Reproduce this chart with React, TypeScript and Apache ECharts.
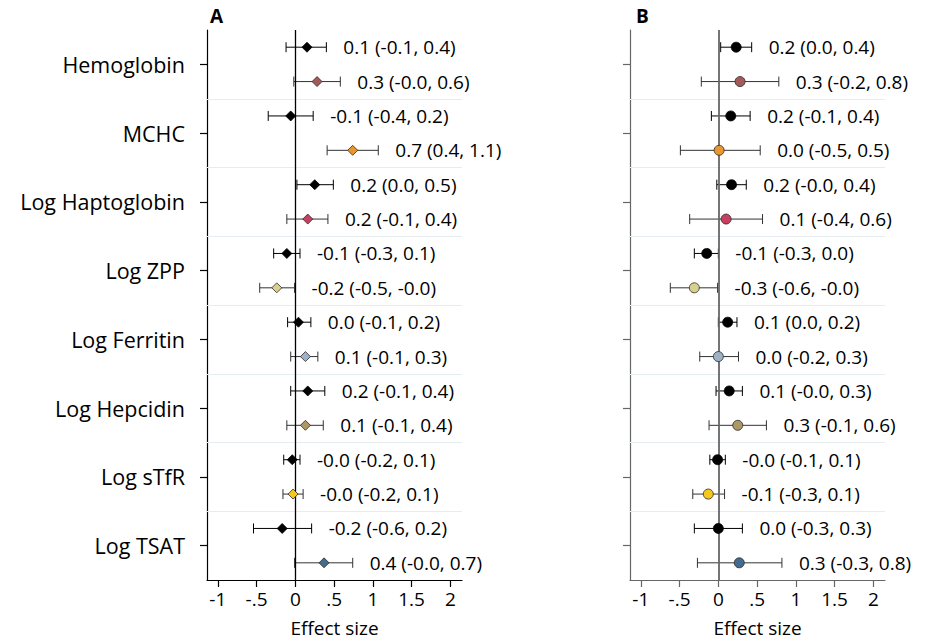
import React, { useEffect, useRef } from "react";
import * as echarts from "echarts";

const categories = ["Hemoglobin", "MCHC", "Log Haptoglobin", "Log ZPP", "Log Ferritin", "Log Hepcidin", "Log sTfR", "Log TSAT"];

// Panel A (rows: per category, first = black, second = coloured)
const aEst = [0.15, 0.28, -0.06, 0.74, 0.25, 0.16, -0.11, -0.24, 0.04, 0.13, 0.16, 0.13, -0.04, -0.03, -0.17, 0.37];
const aLo = [-0.12, -0.02, -0.35, 0.41, 0.02, -0.11, -0.28, -0.46, -0.1, -0.06, -0.06, -0.11, -0.15, -0.16, -0.54, -0.01];
const aHi = [0.4, 0.58, 0.23, 1.07, 0.49, 0.42, 0.06, -0.01, 0.2, 0.29, 0.38, 0.36, 0.06, 0.1, 0.21, 0.74];
const aLabels = [
  "0.1 (-0.1, 0.4)", "0.3 (-0.0, 0.6)", "-0.1 (-0.4, 0.2)", "0.7 (0.4, 1.1)",
  "0.2 (0.0, 0.5)", "0.2 (-0.1, 0.4)", "-0.1 (-0.3, 0.1)", "-0.2 (-0.5, -0.0)",
  "0.0 (-0.1, 0.2)", "0.1 (-0.1, 0.3)", "0.2 (-0.1, 0.4)", "0.1 (-0.1, 0.4)",
  "-0.0 (-0.2, 0.1)", "-0.0 (-0.2, 0.1)", "-0.2 (-0.6, 0.2)", "0.4 (-0.0, 0.7)",
];

// Panel B
const bEst = [0.23, 0.28, 0.16, 0.01, 0.17, 0.1, -0.15, -0.31, 0.12, 0.0, 0.14, 0.25, -0.01, -0.13, 0.0, 0.27];
const bLo = [0.03, -0.22, -0.09, -0.49, -0.02, -0.37, -0.31, -0.62, 0.0, -0.24, -0.03, -0.12, -0.11, -0.33, -0.31, -0.27];
const bHi = [0.43, 0.78, 0.41, 0.54, 0.36, 0.57, 0.0, -0.01, 0.24, 0.26, 0.31, 0.62, 0.09, 0.08, 0.31, 0.82];
const bLabels = [
  "0.2 (0.0, 0.4)", "0.3 (-0.2, 0.8)", "0.2 (-0.1, 0.4)", "0.0 (-0.5, 0.5)",
  "0.2 (-0.0, 0.4)", "0.1 (-0.4, 0.6)", "-0.1 (-0.3, 0.0)", "-0.3 (-0.6, -0.0)",
  "0.1 (0.0, 0.2)", "0.0 (-0.2, 0.3)", "0.1 (-0.0, 0.3)", "0.3 (-0.1, 0.6)",
  "-0.0 (-0.1, 0.1)", "-0.1 (-0.3, 0.1)", "0.0 (-0.3, 0.3)", "0.3 (-0.3, 0.8)",
];

const groupColors = ["#a35a58", "#e8972f", "#c8405f", "#d9d08e", "#9eb2c6", "#ad9764", "#f4c81c", "#446a8e"];
const xTicks = [-1, -0.5, 0, 0.5, 1, 1.5, 2];

const FONT = "Open Sans";

function fmtTick(v: number): string {
  if (v === 0) return "0";
  const a = Math.abs(v);
  const s = a < 1 ? String(a).replace(/^0/, "") : String(a);
  return (v < 0 ? "-" : "") + s;
}

function buildPanel(idx: number, est: number[], lo: number[], hi: number[], labels: string[], symbol: string, axisColor: string, zeroColor: string) {
  const rows = est.map((_, i) => i);
  const errData = rows.map((i) => [lo[i], hi[i], i]);
  const ptData = rows.map((i) => ({
    value: [est[i], i],
    itemStyle: {
      color: i % 2 === 0 ? "#000000" : groupColors[Math.floor(i / 2)],
      borderColor: i % 2 === 0 ? "#000000" : "#2a2a2a",
      borderWidth: 0.8,
      opacity: 1,
    },
  }));
  const seps = [1.5, 3.5, 5.5, 7.5, 9.5, 11.5, 13.5].map((y) => ({
    yAxis: y,
    lineStyle: { color: "#e6edf1", width: 1, type: "solid" },
  }));
  const errSeries = {
    type: "custom",
    xAxisIndex: idx,
    yAxisIndex: idx * 2 + 1,
    encode: { x: [0, 1], y: 2 },
    data: errData,
    z: 3,
    markLine: {
      silent: true,
      symbol: "none",
      label: { show: false },
      data: [...seps, { xAxis: 0, lineStyle: { color: zeroColor, width: idx === 0 ? 1.3 : 1.8, type: "solid" } }],
    },
    renderItem: (params: any, api: any) => {
      const l = api.value(0);
      const h = api.value(1);
      const y = api.value(2);
      const p1 = api.coord([l, y]);
      const p2 = api.coord([h, y]);
      const stroke = y % 2 === 0 ? "#000" : "#333";
      const c = 5;
      return {
        type: "group",
        children: [
          { type: "line", shape: { x1: p1[0], y1: p1[1], x2: p2[0], y2: p2[1] }, style: { stroke, lineWidth: 1 } },
          { type: "line", shape: { x1: p1[0], y1: p1[1] - c, x2: p1[0], y2: p1[1] + c }, style: { stroke, lineWidth: 1 } },
          { type: "line", shape: { x1: p2[0], y1: p2[1] - c, x2: p2[0], y2: p2[1] + c }, style: { stroke, lineWidth: 1 } },
          {
            type: "text",
            x: p2[0] + 17,
            y: p2[1],
            style: { text: labels[params.dataIndex], fill: "#000", fontSize: 19, fontFamily: FONT, verticalAlign: "middle", align: "left" },
          },
        ],
      };
    },
  };
  const ptSeries = {
    type: "scatter",
    xAxisIndex: idx,
    yAxisIndex: idx * 2 + 1,
    symbol,
    symbolSize: 10,
    itemStyle: { opacity: 1 },
    data: ptData,
    z: 5,
  };
  const xAxis = {
    type: "value",
    gridIndex: idx,
    min: -1.14,
    max: 2.15,
    axisLine: { show: true, onZero: false, lineStyle: { color: axisColor, width: 1.2 } },
    axisTick: { show: true, length: 7, customValues: xTicks, lineStyle: { color: axisColor, width: 1.2 } },
    axisLabel: { customValues: xTicks, formatter: (v: number) => fmtTick(v), fontSize: 19, color: "#000", fontFamily: FONT, margin: 9 },
    splitLine: { show: false },
    name: "Effect size",
    nameLocation: "middle",
    nameGap: 38,
    nameTextStyle: { fontSize: 19, color: "#000", fontFamily: FONT },
  };
  const yCat = {
    type: "category",
    gridIndex: idx,
    data: categories,
    inverse: true,
    axisLine: { show: true, onZero: false, lineStyle: { color: axisColor, width: 1.2 } },
    axisTick: { show: true, alignWithLabel: true, length: 7, lineStyle: { color: axisColor, width: 1.2 } },
    axisLabel: { show: idx === 0, fontSize: 21.5, color: "#000", fontFamily: FONT, margin: 22, padding: [6, 0, 0, 0] },
    splitLine: { show: false },
  };
  const yVal = {
    type: "value",
    gridIndex: idx,
    min: -0.5,
    max: 15.5,
    inverse: true,
    show: false,
    axisLine: { onZero: false },
    splitLine: { show: false },
  };
  return { series: [errSeries, ptSeries], xAxis, yAxes: [yCat, yVal] };
}

export default function App() {
  const ref = useRef<HTMLDivElement>(null);
  useEffect(() => {
    if (!ref.current) return;
    const chart = echarts.init(ref.current, undefined, { renderer: "svg" });
    const pA = buildPanel(0, aEst, aLo, aHi, aLabels, "diamond", "#000", "#000");
    const pB = buildPanel(1, bEst, bLo, bHi, bLabels, "circle", "#666", "#666");
    chart.setOption({
      animation: false,
      backgroundColor: "#fff",
      textStyle: { fontFamily: FONT },
      grid: [
        { left: 207, top: 30, width: 255, height: 552 },
        { left: 630, top: 30, width: 255, height: 552 },
      ],
      graphic: [
        { type: "text", left: 210, top: 6, style: { text: "A", fontSize: 19, fontWeight: "bold", fill: "#000", fontFamily: FONT } },
        { type: "text", left: 636, top: 6, style: { text: "B", fontSize: 19, fontWeight: "bold", fill: "#000", fontFamily: FONT } },
      ],
      xAxis: [pA.xAxis, pB.xAxis],
      yAxis: [...pA.yAxes, ...pB.yAxes],
      series: [...pA.series, ...pB.series],
    });
    return () => chart.dispose();
  }, []);
  return <div ref={ref} style={{ position: "fixed", left: 0, top: 0, width: 932, height: 642 }} />;
}
